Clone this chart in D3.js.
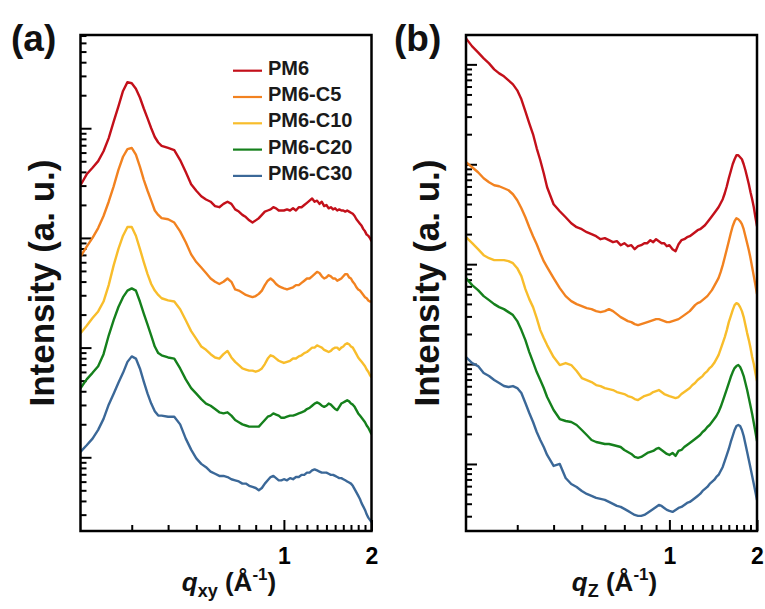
<!DOCTYPE html>
<html>
<head>
<meta charset="utf-8">
<script src="https://cdn.jsdelivr.net/npm/d3@7"></script>
<style>
  body { margin: 0; background: #fff; }
  text { font-family: "Liberation Sans", Arial, sans-serif; }
</style>
</head>
<body>
<svg id="chart" width="765" height="609"></svg>
<script>
// Scattering vector q (Å^-1), shared by the in-plane and out-of-plane line cuts
const q = [
  0.20,0.21,0.22,0.23,0.24,0.25,0.26,0.27,0.28,0.29,
  0.30,0.31,0.32,0.33,0.34,0.35,0.36,0.37,0.38,0.40,
  0.42,0.44,0.46,0.48,0.50,0.52,0.54,0.56,0.58,0.60,
  0.62,0.64,0.66,0.68,0.70,0.72,0.74,0.76,0.78,0.80,
  0.82,0.84,0.86,0.88,0.90,0.92,0.94,0.96,0.98,1.00,
  1.025,1.05,1.075,1.10,1.125,1.15,1.175,1.20,1.225,1.25,
  1.275,1.30,1.325,1.35,1.375,1.40,1.425,1.45,1.475,1.50,
  1.525,1.55,1.575,1.60,1.625,1.65,1.675,1.70,1.725,1.75,
  1.775,1.80,1.825,1.85,1.875,1.90,1.925,1.95,1.975,2.00
];

// In-plane (q_xy) profiles, log10 of intensity (a. u.), curves offset vertically
const xyPM6 = [
  3.48,3.58,3.64,3.70,3.79,3.91,4.06,4.20,4.34,4.42,
  4.41,4.36,4.28,4.18,4.09,4.00,3.92,3.87,3.84,3.82,
  3.80,3.71,3.60,3.49,3.43,3.38,3.35,3.33,3.29,3.28,
  3.31,3.33,3.31,3.26,3.24,3.21,3.19,3.16,3.14,3.16,
  3.18,3.21,3.24,3.25,3.26,3.28,3.27,3.25,3.25,3.25,
  3.26,3.25,3.27,3.25,3.28,3.28,3.30,3.32,3.34,3.36,
  3.33,3.34,3.31,3.33,3.29,3.30,3.27,3.28,3.26,3.27,
  3.25,3.26,3.25,3.25,3.24,3.25,3.24,3.23,3.22,3.20,
  3.17,3.15,3.13,3.11,3.08,3.06,3.03,3.02,3.00,2.97
];
const xyC5 = [
  2.83,2.92,3.00,3.09,3.20,3.33,3.47,3.62,3.74,3.81,
  3.82,3.76,3.65,3.53,3.43,3.34,3.25,3.21,3.18,3.17,
  3.14,3.06,2.96,2.85,2.78,2.73,2.68,2.63,2.60,2.58,
  2.60,2.63,2.60,2.53,2.52,2.50,2.48,2.47,2.46,2.47,
  2.49,2.52,2.57,2.61,2.63,2.61,2.58,2.56,2.55,2.54,
  2.53,2.54,2.55,2.57,2.57,2.59,2.61,2.63,2.63,2.65,
  2.67,2.69,2.68,2.65,2.63,2.64,2.66,2.65,2.63,2.63,
  2.61,2.62,2.63,2.65,2.67,2.67,2.64,2.63,2.60,2.58,
  2.55,2.53,2.52,2.50,2.48,2.46,2.45,2.43,2.42,2.42
];
const xyC10 = [
  2.13,2.20,2.27,2.33,2.42,2.57,2.75,2.90,3.02,3.10,
  3.10,3.02,2.90,2.78,2.67,2.58,2.52,2.48,2.45,2.43,
  2.42,2.35,2.25,2.15,2.08,2.01,1.98,1.94,1.91,1.90,
  1.94,1.97,1.91,1.87,1.84,1.81,1.80,1.79,1.79,1.78,
  1.79,1.81,1.85,1.90,1.93,1.92,1.90,1.88,1.87,1.86,
  1.87,1.88,1.90,1.90,1.92,1.93,1.95,1.96,1.98,2.00,
  2.00,2.02,2.01,2.00,1.98,1.97,1.96,1.97,1.99,2.00,
  2.00,1.98,2.00,2.01,2.03,2.04,2.03,2.01,2.00,1.97,
  1.94,1.91,1.89,1.87,1.85,1.83,1.80,1.78,1.75,1.73
];
const xyC20 = [
  1.63,1.71,1.77,1.83,1.94,2.11,2.25,2.37,2.46,2.52,
  2.54,2.52,2.42,2.31,2.21,2.11,2.01,1.95,1.93,1.91,
  1.90,1.81,1.71,1.63,1.58,1.53,1.49,1.47,1.44,1.41,
  1.40,1.41,1.38,1.34,1.32,1.30,1.29,1.28,1.28,1.28,
  1.28,1.31,1.34,1.37,1.38,1.40,1.39,1.38,1.36,1.36,
  1.37,1.38,1.38,1.39,1.40,1.41,1.42,1.44,1.45,1.47,
  1.49,1.50,1.49,1.47,1.46,1.47,1.49,1.48,1.46,1.44,
  1.43,1.46,1.49,1.50,1.51,1.52,1.51,1.49,1.48,1.46,
  1.43,1.40,1.38,1.36,1.34,1.32,1.29,1.27,1.24,1.21
];
const xyC30 = [
  1.05,1.11,1.17,1.25,1.35,1.48,1.58,1.68,1.77,1.87,
  1.92,1.90,1.81,1.69,1.58,1.49,1.42,1.38,1.38,1.37,
  1.37,1.30,1.17,1.07,0.99,0.94,0.91,0.87,0.85,0.83,
  0.83,0.82,0.80,0.79,0.78,0.76,0.76,0.74,0.73,0.72,
  0.70,0.72,0.76,0.79,0.82,0.83,0.81,0.79,0.79,0.80,
  0.79,0.81,0.80,0.82,0.82,0.84,0.84,0.86,0.86,0.88,
  0.89,0.88,0.87,0.86,0.86,0.86,0.85,0.84,0.84,0.83,
  0.82,0.81,0.81,0.80,0.79,0.78,0.77,0.76,0.74,0.71,
  0.68,0.65,0.62,0.58,0.55,0.52,0.48,0.45,0.43,0.41
];

// Out-of-plane (q_z) profiles, log10 of intensity (a. u.)
const zPM6 = [
  5.26,5.18,5.12,5.06,5.01,4.95,4.91,4.88,4.84,4.80,
  4.74,4.65,4.53,4.41,4.30,4.16,4.04,3.91,3.77,3.60,
  3.53,3.47,3.41,3.37,3.35,3.32,3.30,3.28,3.25,3.26,
  3.24,3.22,3.23,3.19,3.21,3.18,3.19,3.15,3.18,3.19,
  3.21,3.21,3.24,3.22,3.25,3.23,3.21,3.21,3.18,3.19,
  3.15,3.13,3.20,3.24,3.25,3.27,3.28,3.30,3.32,3.34,
  3.35,3.37,3.39,3.42,3.45,3.48,3.51,3.54,3.57,3.61,
  3.65,3.71,3.78,3.86,3.93,4.00,4.05,4.09,4.09,4.07,
  4.05,4.00,3.94,3.87,3.80,3.72,3.65,3.57,3.47,3.38
];
const zC5 = [
  4.02,3.97,3.92,3.86,3.82,3.79,3.78,3.76,3.74,3.70,
  3.64,3.56,3.47,3.37,3.28,3.20,3.11,3.03,2.97,2.86,
  2.76,2.68,2.63,2.60,2.58,2.56,2.55,2.53,2.52,2.53,
  2.55,2.53,2.50,2.47,2.45,2.43,2.42,2.40,2.39,2.40,
  2.41,2.42,2.43,2.44,2.45,2.45,2.44,2.43,2.42,2.42,
  2.43,2.44,2.45,2.47,2.49,2.51,2.53,2.56,2.59,2.61,
  2.62,2.64,2.66,2.68,2.71,2.74,2.78,2.82,2.86,2.92,
  2.99,3.07,3.15,3.23,3.31,3.38,3.43,3.46,3.45,3.43,
  3.40,3.35,3.28,3.21,3.14,3.06,2.97,2.88,2.79,2.70
];
const zC10 = [
  3.27,3.21,3.15,3.09,3.06,3.04,3.04,3.04,3.03,3.01,
  2.96,2.88,2.75,2.65,2.57,2.46,2.34,2.26,2.19,2.07,
  1.99,2.01,1.99,1.93,1.86,1.84,1.82,1.79,1.78,1.76,
  1.75,1.74,1.72,1.71,1.70,1.68,1.67,1.65,1.64,1.66,
  1.68,1.69,1.70,1.72,1.73,1.74,1.72,1.70,1.69,1.68,
  1.67,1.66,1.67,1.70,1.72,1.74,1.76,1.79,1.81,1.84,
  1.86,1.88,1.91,1.93,1.96,1.98,2.01,2.05,2.09,2.15,
  2.21,2.27,2.34,2.42,2.48,2.54,2.59,2.61,2.60,2.57,
  2.53,2.47,2.39,2.31,2.24,2.16,2.07,2.00,1.91,1.83
];
const zC20 = [
  2.86,2.79,2.74,2.68,2.64,2.60,2.57,2.55,2.52,2.49,
  2.43,2.34,2.24,2.12,2.02,1.92,1.84,1.76,1.67,1.54,
  1.45,1.43,1.42,1.39,1.34,1.29,1.24,1.22,1.21,1.20,
  1.20,1.19,1.18,1.17,1.14,1.12,1.10,1.07,1.06,1.07,
  1.09,1.11,1.12,1.13,1.15,1.16,1.14,1.12,1.10,1.09,
  1.11,1.08,1.13,1.14,1.17,1.19,1.21,1.23,1.25,1.27,
  1.29,1.32,1.34,1.37,1.39,1.42,1.45,1.48,1.52,1.57,
  1.63,1.69,1.75,1.81,1.87,1.92,1.96,1.98,1.99,1.97,
  1.93,1.88,1.81,1.74,1.66,1.58,1.50,1.41,1.32,1.23
];
const zC30 = [
  2.07,2.01,1.98,1.91,1.88,1.84,1.81,1.78,1.77,1.78,
  1.76,1.71,1.61,1.51,1.42,1.32,1.24,1.17,1.09,0.98,
  1.00,0.86,0.80,0.77,0.73,0.70,0.68,0.66,0.65,0.64,
  0.62,0.60,0.58,0.57,0.55,0.53,0.51,0.49,0.48,0.48,
  0.49,0.51,0.53,0.55,0.57,0.59,0.58,0.56,0.54,0.53,
  0.52,0.54,0.56,0.57,0.59,0.61,0.62,0.64,0.66,0.68,
  0.70,0.73,0.75,0.77,0.80,0.82,0.84,0.87,0.89,0.93,
  0.97,1.03,1.09,1.15,1.22,1.28,1.34,1.38,1.39,1.38,
  1.34,1.28,1.20,1.12,1.04,0.96,0.88,0.80,0.72,0.64
];

const sampleNames = ["PM6", "PM6-C5", "PM6-C10", "PM6-C20", "PM6-C30"];
const sampleColors = ["#c3101a", "#f28220", "#f8bd2b", "#15801c", "#3b6898"];
const qMajorTicks = [1, 2];
const qMinorTicks = [0.3,0.4,0.5,0.6,0.7,0.8,0.9,1.1,1.2,1.3,1.4,1.5,1.6,1.7,1.8,1.9];

const svg = d3.select("#chart");
svg.append("rect").attr("width", 765).attr("height", 609).attr("fill", "#fff");

const panels = [
  { id: "a", tag: "(a)", tagX: 11, sub: "xy", titleX: 53.5,
    left: 80.5, right: 371.5, top: 35, bottom: 531, lg: [0.328, 4.85],
    curves: [xyPM6, xyC5, xyC10, xyC20, xyC30], legend: true },
  { id: "b", tag: "(b)", tagX: 394, sub: "Z", titleX: 438.5,
    left: 466, right: 757, top: 35, bottom: 531, lg: [0.329, 5.294],
    curves: [zPM6, zC5, zC10, zC20, zC30], legend: false }
];

panels.forEach(p => {
  const x = d3.scaleLog().domain([0.2, 2]).range([p.left, p.right]);
  const y = d3.scaleLog().domain([10 ** p.lg[0], 10 ** p.lg[1]]).range([p.bottom, p.top]);
  const g = svg.append("g");

  g.append("clipPath").attr("id", "clip-" + p.id)
    .append("rect").attr("x", p.left).attr("y", p.top)
    .attr("width", p.right - p.left).attr("height", p.bottom - p.top);

  // decade and sub-decade ticks on the intensity axis
  const yMajor = [], yMinor = [];
  for (let e = Math.floor(p.lg[0]); e <= Math.ceil(p.lg[1]); e++) {
    for (let k = 1; k <= 9; k++) {
      const v = k * 10 ** e;
      const lv = Math.log10(v);
      if (lv < p.lg[0] || lv > p.lg[1]) continue;
      (k === 1 ? yMajor : yMinor).push(v);
    }
  }

  const styleAxis = sel => {
    sel.select(".domain").remove();
    sel.selectAll(".tick line").attr("stroke", "#000").attr("stroke-width", 2);
  };

  g.append("g").attr("transform", `translate(${p.left},0)`)
    .call(d3.axisLeft(y).tickValues(yMajor).tickSize(-11).tickFormat(""))
    .call(styleAxis);
  g.append("g").attr("transform", `translate(${p.left},0)`)
    .call(d3.axisLeft(y).tickValues(yMinor).tickSize(-6).tickFormat(""))
    .call(styleAxis);

  g.append("g").attr("transform", `translate(0,${p.bottom})`)
    .call(d3.axisBottom(x).tickValues(qMinorTicks).tickSize(-6).tickFormat(""))
    .call(styleAxis);
  const xa = g.append("g").attr("transform", `translate(0,${p.bottom})`)
    .call(d3.axisBottom(x).tickValues(qMajorTicks).tickSize(-11).tickPadding(17)
      .tickFormat(d3.format("d")))
    .call(styleAxis);
  xa.selectAll(".tick text")
    .attr("fill", "#000").attr("font-size", 23).attr("font-weight", "bold")
    .attr("font-family", "Liberation Sans, Arial, sans-serif");

  // profiles
  const line = d3.line()
    .x((d, i) => x(q[i]))
    .y(d => y(10 ** d));
  g.append("g").attr("clip-path", `url(#clip-${p.id})`)
    .selectAll("path").data(p.curves).join("path")
    .attr("d", line)
    .attr("fill", "none")
    .attr("stroke", (d, i) => sampleColors[i])
    .attr("stroke-width", 2.4)
    .attr("stroke-linejoin", "round");

  // frame
  g.append("rect")
    .attr("x", p.left).attr("y", p.top)
    .attr("width", p.right - p.left).attr("height", p.bottom - p.top)
    .attr("fill", "none").attr("stroke", "#000").attr("stroke-width", 2.5);

  // panel tag
  svg.append("text").attr("x", p.tagX).attr("y", 51)
    .attr("font-size", 37).attr("font-weight", "bold").attr("fill", "#111")
    .text(p.tag);

  // intensity axis title
  svg.append("text")
    .attr("transform", `translate(${p.titleX},${(p.top + p.bottom) / 2}) rotate(-90)`)
    .attr("text-anchor", "middle")
    .attr("font-size", 35).attr("font-weight", "bold").attr("fill", "#111")
    .text("Intensity (a. u.)");

  // q axis title
  const t = svg.append("text")
    .attr("x", (p.left + p.right) / 2 + 3).attr("y", 591)
    .attr("text-anchor", "middle")
    .attr("font-size", 26).attr("font-weight", "bold").attr("fill", "#111");
  t.append("tspan").attr("font-style", "italic").text("q");
  t.append("tspan").attr("font-size", 18).attr("dy", 6).text(p.sub);
  t.append("tspan").attr("dy", -6).text(" (Å");
  t.append("tspan").attr("font-size", 17).attr("dy", -11).text("-1");
  t.append("tspan").attr("dy", 11).text(")");

  if (p.legend) {
    const lg = svg.append("g");
    sampleNames.forEach((name, i) => {
      const yy = 70.7 + i * 26.3;
      lg.append("line").attr("x1", 233).attr("x2", 262)
        .attr("y1", yy).attr("y2", yy)
        .attr("stroke", sampleColors[i]).attr("stroke-width", 2.2);
      lg.append("text").attr("x", 268).attr("y", yy + 4)
        .attr("font-size", 20).attr("font-weight", "bold").attr("fill", "#1a1a1a")
        .text(name);
    });
  }
});
</script>
</body>
</html>
